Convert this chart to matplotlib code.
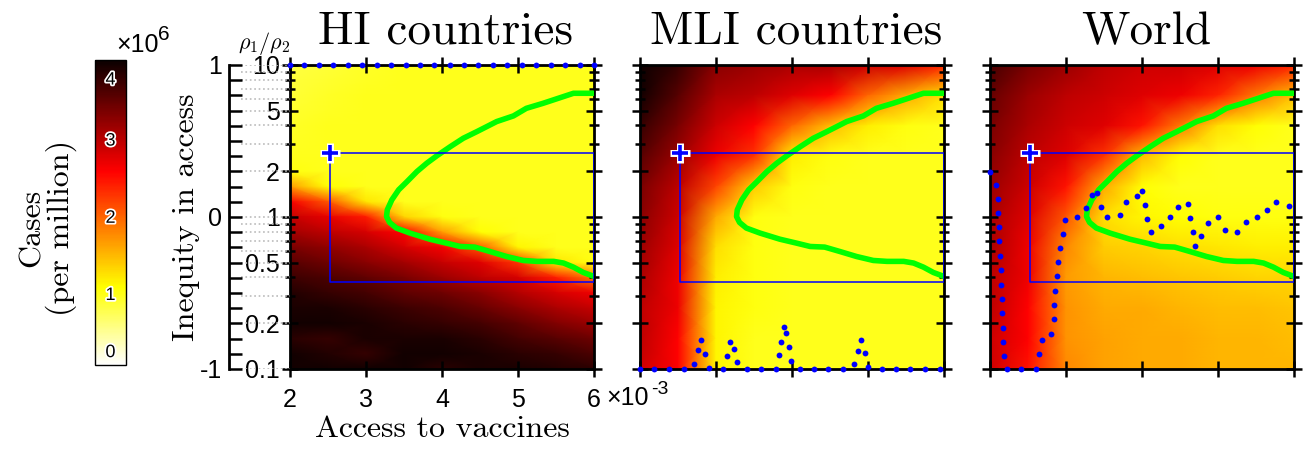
import numpy as np
import matplotlib.pyplot as plt
import matplotlib.patheffects as pe
from matplotlib.ticker import MultipleLocator

plt.rcParams['font.family'] = ['Liberation Sans', 'DejaVu Sans']
plt.rcParams['mathtext.fontset'] = 'cm'

# access to vaccines (x 10^-3) and inequity in access, log10(rho1/rho2)
x_access = [2.0, 2.5, 3.0, 3.5, 4.0, 4.5, 5.0, 5.5, 6.0]
y_fino = [1.0, 0.9, 0.8, 0.7, 0.6, 0.5, 0.4, 0.3, 0.2, 0.1, 0.0,
          -0.1, -0.2, -0.3, -0.4, -0.5, -0.6, -0.7, -0.8, -0.9, -1.0]
y_grueso = [1.0, 0.8, 0.6, 0.4, 0.2, 0.0, -0.2, -0.4, -0.6, -0.8, -1.0]

# cases (x 10^6 per million), rows from top (y=1) to bottom (y=-1)
cases_hi = [
    [0.85, 0.90, 0.95, 1.00, 1.00, 1.00, 1.00, 1.00, 1.00],
    [0.88, 0.92, 0.97, 1.00, 1.00, 1.00, 1.00, 1.00, 1.00],
    [0.90, 0.95, 1.00, 1.00, 1.00, 1.00, 1.00, 1.00, 1.00],
    [0.93, 0.97, 1.00, 1.00, 1.00, 1.00, 1.00, 1.00, 1.00],
    [0.95, 1.00, 1.00, 1.00, 1.00, 1.00, 1.00, 1.00, 1.00],
    [0.97, 1.00, 1.00, 1.00, 1.00, 1.00, 1.00, 1.00, 1.00],
    [1.00, 1.00, 1.00, 1.00, 1.00, 1.00, 1.00, 1.00, 1.00],
    [1.05, 1.00, 1.00, 1.00, 1.00, 1.00, 1.00, 1.00, 1.00],
    [1.70, 1.10, 1.00, 1.00, 1.00, 1.00, 1.00, 1.00, 1.00],
    [2.65, 2.10, 1.25, 1.00, 1.00, 1.00, 1.00, 1.00, 1.00],
    [2.95, 2.75, 2.45, 1.35, 1.05, 1.00, 1.00, 1.00, 1.00],
    [3.15, 3.00, 2.85, 2.60, 1.70, 1.10, 1.00, 1.00, 1.00],
    [3.40, 3.25, 3.10, 2.85, 2.65, 2.10, 1.15, 1.00, 1.00],
    [3.60, 3.45, 3.30, 3.15, 2.95, 2.80, 2.30, 1.25, 1.05],
    [3.75, 3.65, 3.55, 3.40, 3.20, 3.00, 2.85, 2.45, 1.90],
    [3.90, 3.80, 3.70, 3.55, 3.45, 3.30, 3.05, 2.85, 2.70],
    [3.95, 3.95, 3.85, 3.75, 3.65, 3.50, 3.30, 3.10, 2.95],
    [4.00, 4.00, 3.95, 3.85, 3.80, 3.70, 3.55, 3.35, 3.20],
    [3.85, 3.80, 3.95, 3.95, 3.95, 3.85, 3.70, 3.60, 3.45],
    [4.00, 3.90, 3.80, 4.00, 4.00, 3.95, 3.85, 3.80, 3.65],
    [4.00, 4.00, 4.00, 4.00, 3.85, 3.95, 3.95, 3.90, 3.85],
]
cases_mli = [
    [4.20, 3.80, 3.30, 3.20, 3.10, 3.10, 2.90, 2.80, 2.40],
    [4.00, 3.60, 3.10, 3.00, 2.80, 2.60, 2.00, 1.60, 1.30],
    [3.80, 3.40, 2.90, 2.60, 2.00, 1.50, 1.20, 1.05, 1.00],
    [3.60, 3.20, 2.70, 2.30, 1.20, 1.05, 1.00, 1.00, 1.00],
    [3.40, 3.00, 2.20, 1.40, 1.05, 1.00, 1.00, 1.00, 1.00],
    [3.30, 2.90, 1.60, 1.05, 1.00, 1.00, 1.00, 1.00, 1.00],
    [3.20, 2.80, 1.30, 1.05, 1.00, 1.00, 1.00, 1.00, 1.00],
    [3.10, 2.70, 1.20, 1.05, 1.00, 1.00, 1.00, 1.00, 1.00],
    [3.00, 2.70, 1.15, 1.05, 1.00, 1.00, 1.00, 1.00, 1.00],
    [3.00, 2.60, 1.15, 1.00, 1.00, 1.00, 1.00, 1.00, 1.00],
    [2.90, 2.60, 1.15, 1.00, 1.00, 1.00, 1.00, 1.00, 1.00],
]
cases_world = [
    [3.70, 3.40, 3.20, 3.00, 2.90, 2.90, 2.80, 2.70, 2.40],
    [3.50, 3.20, 3.00, 2.90, 2.80, 2.70, 2.40, 1.90, 1.50],
    [3.40, 3.10, 2.90, 2.80, 2.50, 1.90, 1.30, 1.10, 1.00],
    [3.30, 3.00, 2.80, 2.30, 1.50, 1.10, 1.00, 1.00, 1.00],
    [3.20, 2.90, 2.50, 1.60, 1.10, 1.00, 1.00, 1.00, 1.00],
    [3.10, 2.80, 2.10, 1.30, 1.15, 1.10, 1.05, 1.05, 1.05],
    [3.10, 2.70, 1.80, 1.40, 1.35, 1.30, 1.25, 1.20, 1.20],
    [3.00, 2.70, 1.70, 1.55, 1.50, 1.45, 1.40, 1.35, 1.35],
    [3.00, 2.60, 1.75, 1.60, 1.60, 1.55, 1.50, 1.50, 1.45],
    [2.90, 2.60, 1.75, 1.65, 1.60, 1.60, 1.55, 1.55, 1.50],
    [2.90, 2.50, 1.80, 1.65, 1.60, 1.60, 1.55, 1.55, 1.55],
]

# green contour (same in all panels)
front_x = [6.0, 5.73, 5.53, 5.33, 5.11, 4.94, 4.72, 4.59, 4.46, 4.28, 4.11, 3.93,
           3.80, 3.67, 3.54, 3.43, 3.34, 3.28, 3.27, 3.31, 3.40, 3.58, 3.84, 4.06,
           4.24, 4.43, 4.63, 4.85, 5.07, 5.25, 5.47, 5.60, 5.73, 5.86, 6.0]
front_y = [0.814, 0.814, 0.781, 0.748, 0.715, 0.665, 0.628, 0.595, 0.562, 0.518,
           0.463, 0.402, 0.354, 0.299, 0.233, 0.179, 0.113, 0.047, 0.003, -0.036,
           -0.073, -0.106, -0.146, -0.172, -0.194, -0.198, -0.227, -0.260, -0.286,
           -0.292, -0.292, -0.303, -0.330, -0.365, -0.391]

# blue box and its corner
box_x = [2.53, 6.0]
box_y = [-0.43, 0.423]

# optimal inequity for each access level (blue dots)
opt_hi_x = [2.0, 2.19, 2.38, 2.57, 2.76, 2.95, 3.14, 3.33, 3.52, 3.71, 3.90,
            4.10, 4.29, 4.48, 4.67, 4.86, 5.05, 5.24, 5.43, 5.62, 5.81, 6.0]
opt_hi_y = [1.0] * 22
opt_mli_x = [2.0, 2.189, 2.383, 2.573, 2.714, 2.762, 2.802, 2.855, 2.903, 3.092,
             3.141, 3.189, 3.233, 3.282, 3.405, 3.595, 3.784, 3.833, 3.859, 3.890,
             3.925, 3.956, 3.987, 4.101, 4.291, 4.476, 4.665, 4.819, 4.863, 4.907,
             4.956, 5.004, 5.180, 5.370, 5.559, 5.749, 5.943]
opt_mli_y = [-1, -1, -1, -1, -0.967, -0.877, -0.812, -0.901, -0.993, -1,
             -0.912, -0.823, -0.866, -0.956, -1, -1, -1, -0.910, -0.820, -0.724,
             -0.763, -0.858, -0.950, -1, -1, -1, -1, -0.969, -0.880, -0.807,
             -0.897, -0.987, -1, -1, -1, -1, -1]
opt_world_x = [2.0, 2.079, 2.101, 2.110, 2.115, 2.123, 2.132, 2.141, 2.150, 2.154,
               2.163, 2.172, 2.176, 2.189, 2.225, 2.414, 2.603, 2.643, 2.687, 2.802,
               2.837, 2.846, 2.859, 2.881, 2.899, 2.925, 2.960, 2.991, 3.150, 3.264,
               3.348, 3.414, 3.462, 3.542, 3.714, 3.793, 3.938, 4.004, 4.035, 4.070,
               4.114, 4.247, 4.370, 4.471, 4.603, 4.634, 4.665, 4.700, 4.780, 4.863,
               5.000, 5.088, 5.255, 5.365, 5.511, 5.647, 5.766, 5.929]
opt_world_y = [0.299, 0.211, 0.119, 0.025, -0.069, -0.161, -0.255, -0.347, -0.446, -0.540,
               -0.634, -0.728, -0.823, -0.917, -1, -1, -1, -0.901, -0.812, -0.768,
               -0.674, -0.579, -0.487, -0.391, -0.297, -0.205, -0.111, -0.019, -0.001, 0.062,
               0.148, 0.161, 0.069, -0.001, 0.012, 0.097, 0.139, 0.172, 0.080, -0.014,
               -0.100, -0.056, -0.001, 0.069, 0.087, -0.005, -0.100, -0.194, -0.122, -0.041,
               -0.001, -0.087, -0.100, -0.036, -0.001, 0.047, 0.100, 0.073]

ratio_ticks = [0.1, 0.2, 0.5, 1, 2, 5, 10]
ratio_minor = [0.3, 0.4, 0.6, 0.7, 0.8, 0.9, 3, 4, 6, 7, 8, 9]
cbar_labels = [0, 1, 2, 3, 4]

paneles = [
    ("HI countries", y_fino, cases_hi, opt_hi_x, opt_hi_y),
    ("MLI countries", y_grueso, cases_mli, opt_mli_x, opt_mli_y),
    ("World", y_grueso, cases_world, opt_world_x, opt_world_y),
]

W, H = 1308, 454
fig = plt.figure(figsize=(W / 100, H / 100), dpi=100)


def caja(x0, y0, x1, y1):
    return [x0 / W, 1 - y1 / H, (x1 - x0) / W, (y1 - y0) / H]


vmin, vmax = 0.1, 4.05
lefts = [290, 640, 990]
serif = 'cmr10'
sans = 'Liberation Sans'
fs_num = 18
malla = None

for i, (titulo, yy, datos, ox, oy) in enumerate(paneles):
    ax = fig.add_axes(caja(lefts[i], 65, lefts[i] + 304, 369))
    malla = ax.pcolormesh(x_access, yy, np.array(datos), shading='gouraud',
                          cmap='hot_r', vmin=vmin, vmax=vmax)
    ax.plot(front_x, front_y, color='#00ff00', lw=4, solid_capstyle='round', zorder=3)
    ax.plot([box_x[0], box_x[1], box_x[1], box_x[0], box_x[0]],
            [box_y[1], box_y[1], box_y[0], box_y[0], box_y[1]],
            color='#0000ff', lw=1.1, zorder=4)
    ax.plot(box_x[0], box_y[1], marker='+', ms=14, mew=5, color='white', zorder=5)
    ax.plot(box_x[0], box_y[1], marker='+', ms=12, mew=2.6, color='#0000ff', zorder=6)
    ax.plot(ox, oy, 'o', color='#0000ff', ms=4.2, mec='none', clip_on=False, zorder=7)

    ax.set_xlim(2, 6)
    ax.set_ylim(-1, 1)
    ax.set_xticks([2, 3, 4, 5, 6])
    ax.set_yticks(np.log10(ratio_ticks))
    ax.set_yticks(np.log10(ratio_minor), minor=True)
    ax.tick_params(which='major', direction='inout', length=11, width=1.8,
                   top=True, right=True, labelsize=fs_num)
    ax.tick_params(which='minor', direction='inout', length=7, width=1.8,
                   left=True, right=True)
    for sp in ax.spines.values():
        sp.set_linewidth(2)
    if i == 0:
        ax.set_xticklabels(['2', '3', '4', '5', '6'])
        ax.set_yticklabels(['0.1', '0.2', '0.5', '1', '2', '5', '10'])
        ax.tick_params(axis='x', pad=8)
        ax.tick_params(axis='y', pad=2)
    else:
        ax.set_xticklabels([])
        ax.set_yticklabels([])
    fig.text((lefts[i] + 152 + 4) / W, 1 - 44 / H, titulo, family=serif,
             fontsize=34, ha='center', va='baseline')

# eje exterior -1..1 con lineas punteadas
ax0 = fig.add_axes(caja(229, 65, 290, 369))
ax0.set_facecolor('none')
ax0.set_ylim(-1, 1)
ax0.set_xlim(0, 1)
for s in ['top', 'right', 'bottom']:
    ax0.spines[s].set_visible(False)
ax0.spines['left'].set_linewidth(2)
ax0.set_xticks([])
ax0.set_yticks([-1, 0, 1])
ax0.set_yticklabels(['-1', '0', '1'])
ax0.yaxis.set_minor_locator(MultipleLocator(0.1))
ax0.tick_params(axis='y', which='both', direction='in', length=9, width=1.8,
                labelsize=fs_num, pad=5)
for v in ratio_ticks + ratio_minor:
    ax0.axhline(np.log10(v), xmin=0.2, xmax=1, color='#bbbbbb', ls=':', lw=1.2, zorder=0)
ax0.set_ylabel('Inequity in access', family=serif, fontsize=23, labelpad=0)

fig.text(264 / W, 1 - 49 / H, r'$\rho_1/\rho_2$', fontsize=16, ha='center', va='baseline')

# eje x
fig.text(442 / W, 1 - 437 / H, 'Access to vaccines', family=serif, fontsize=23,
         ha='center', va='baseline')
fig.text(606 / W, 1 - 405 / H, '\u00d710', family=sans, fontsize=fs_num,
         ha='left', va='baseline')
fig.text(651 / W, 1 - 394 / H, '-3', family=sans, fontsize=14, ha='left', va='baseline')

# barra de color
cax = fig.add_axes(caja(95, 60, 126, 365))
cb = fig.colorbar(malla, cax=cax)
cb.set_ticks([])
cb.outline.set_linewidth(1)
for k in cbar_labels:
    t = cax.text(0.5, min(max(k, 0.26), 3.79), str(k), transform=cax.get_yaxis_transform(),
                 ha='center', va='center', fontsize=13, color='black')
    t.set_path_effects([pe.withStroke(linewidth=2.5, foreground='white')])
fig.text(116 / W, 1 - 52 / H, '\u00d710', family=sans, fontsize=fs_num,
         ha='left', va='baseline')
fig.text(158 / W, 1 - 40 / H, '6', family=sans, fontsize=15, ha='left', va='baseline')
fig.text(48 / W, 1 - 228 / H, 'Cases\n(per million)', family=serif, fontsize=23,
         rotation=90, ha='center', va='center', linespacing=1.0)

fig.savefig('out.png', dpi=100)
